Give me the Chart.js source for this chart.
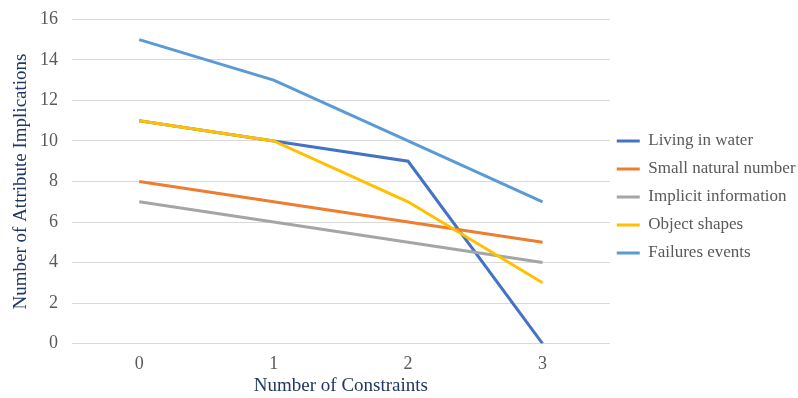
<!DOCTYPE html>
<html>
<head>
<meta charset="utf-8">
<script src="https://cdn.jsdelivr.net/npm/chart.js@4.4.1/dist/chart.umd.min.js"></script>
<style>
html,body{margin:0;padding:0;background:#fff;}
#wrap{width:798px;height:398px;position:relative;}
</style>
</head>
<body>
<div id="wrap"><canvas id="c" width="798" height="398"></canvas></div>
<script>
const categories = ["0", "1", "2", "3"];
const seriesNames = ["Living in water", "Small natural number", "Implicit information", "Object shapes", "Failures events"];
const livingInWater = [11, 10, 9, 0];
const smallNaturalNumber = [8, 7, 6, 5];
const implicitInformation = [7, 6, 5, 4];
const objectShapes = [11, 10, 7, 3];
const failuresEvents = [15, 13, 10, 7];
const colors = ["#4472C4", "#ED7D31", "#A5A5A5", "#FFC000", "#5B9BD5"];
const allValues = [livingInWater, smallNaturalNumber, implicitInformation, objectShapes, failuresEvents];

const serif = "'Liberation Serif', 'Times New Roman', serif";

const datasets = allValues.map((vals, i) => ({
  label: seriesNames[i],
  data: vals,
  borderColor: colors[i],
  backgroundColor: colors[i],
  borderWidth: 3,
  pointRadius: 0,
  tension: 0,
  fill: false,
  order: allValues.length - i
}));

const legendShift = {
  id: 'legendShift',
  afterLayout(chart) {
    const lg = chart.legend;
    if (lg) {
      lg.bottom -= 9;
      lg.left -= 4;
      lg.right -= 4;
    }
  }
};

new Chart(document.getElementById('c'), {
  type: 'line',
  data: { labels: categories, datasets: datasets },
  plugins: [legendShift],
  options: {
    responsive: false,
    animation: false,
    layout: { padding: { left: 12, right: -11, top: 6, bottom: 1 } },
    plugins: {
      tooltip: { enabled: false },
      legend: {
        position: 'right',
        align: 'center',
        labels: {
          font: { family: serif, size: 17 },
          color: '#595959',
          boxWidth: 23,
          boxHeight: 3,
          padding: 11,
          generateLabels: (chart) => chart.data.datasets.map((d, i) => ({
            text: d.label,
            fillStyle: d.borderColor,
            strokeStyle: d.borderColor,
            lineWidth: 0,
            fontColor: '#595959',
            datasetIndex: i
          }))
        }
      }
    },
    scales: {
      x: {
        offset: true,
        grid: { display: false, drawTicks: false },
        border: { display: true, color: '#D9D9D9' },
        ticks: {
          color: '#595959',
          font: { family: serif, size: 18 },
          padding: 10
        },
        title: {
          display: true,
          text: 'Number of Constraints',
          color: '#1F3864',
          font: { family: serif, size: 19 },
          padding: { top: -11, bottom: 0 }
        }
      },
      y: {
        min: 0,
        max: 16,
        ticks: {
          stepSize: 2,
          color: '#595959',
          font: { family: serif, size: 18, lineHeight: 0.6 },
          padding: 14
        },
        grid: { color: '#D9D9D9', drawTicks: false, lineWidth: 1 },
        border: { display: false },
        title: {
          display: true,
          text: 'Number of Attribute Implications',
          color: '#1F3864',
          font: { family: serif, size: 19, lineHeight: 1 },
          padding: { top: 0, bottom: -5 }
        }
      }
    }
  }
});
</script>
</body>
</html>
